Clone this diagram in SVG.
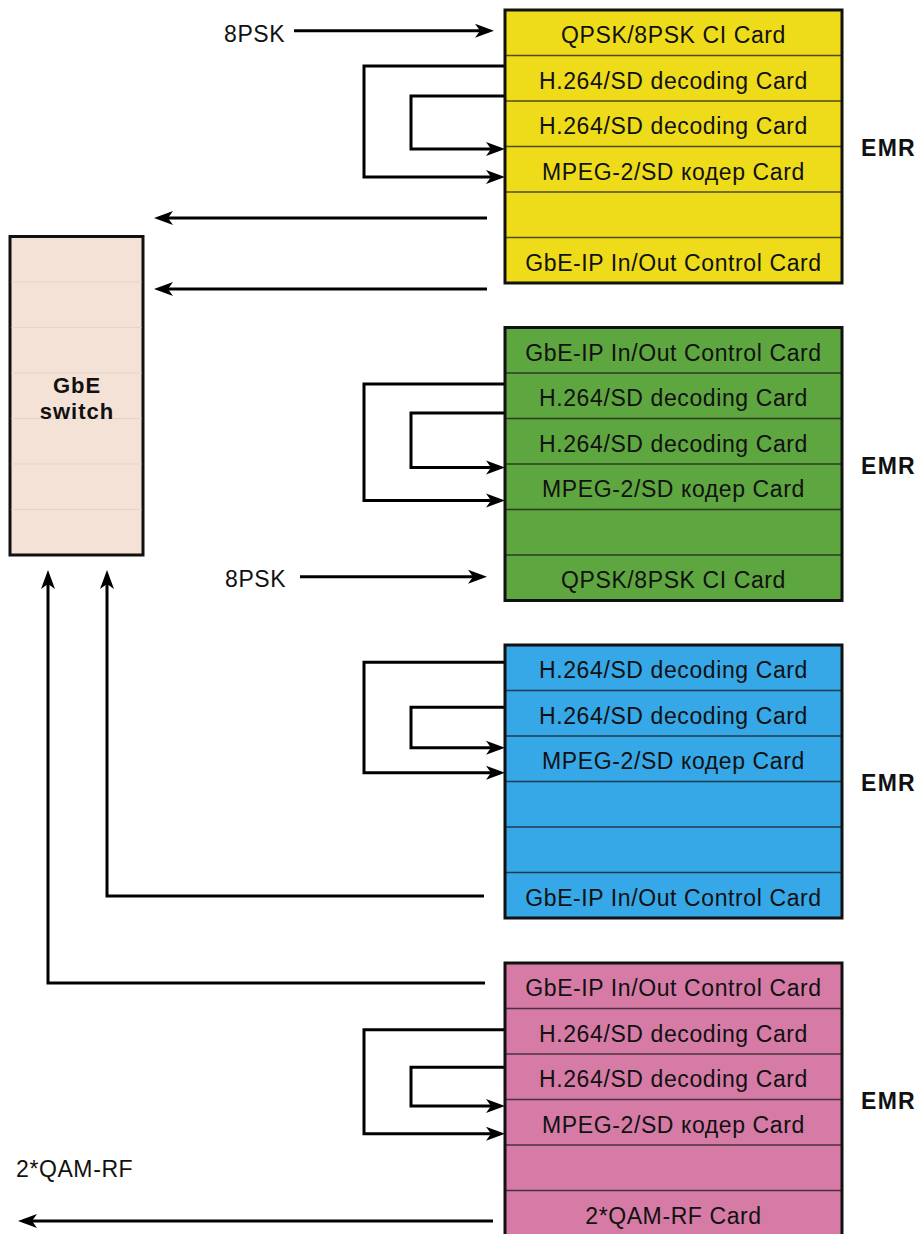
<svg xmlns="http://www.w3.org/2000/svg" width="916" height="1234" viewBox="0 0 916 1234">
<style>
.box{stroke:#111;stroke-width:3}
.div{stroke:#1a1a1a;stroke-width:1.3;stroke-opacity:0.75}
.sdiv{stroke:#e3d3c9;stroke-width:1}
.t{font-family:"Liberation Sans",Arial,sans-serif;font-size:23px;fill:#111;text-anchor:middle;letter-spacing:0.6px}
.lbl{font-family:"Liberation Sans",Arial,sans-serif;font-size:23px;fill:#111;letter-spacing:0.6px}
.emr{font-family:"Liberation Sans",Arial,sans-serif;font-size:23px;font-weight:bold;fill:#111;letter-spacing:1.3px}
.sw{font-family:"Liberation Sans",Arial,sans-serif;font-size:22px;font-weight:bold;fill:#111;text-anchor:middle;letter-spacing:1px}
.c{fill:none;stroke:#000;stroke-width:3;marker-end:url(#ah)}
</style>
<defs>
<marker id="ah" markerUnits="userSpaceOnUse" markerWidth="22" markerHeight="16" refX="14" refY="7" orient="auto" overflow="visible">
<path d="M0,0 L19,7 L0,14 L5,7 z" fill="#000"/>
</marker>
</defs>
<rect width="916" height="1234" fill="#fff"/>

<g id="connectors">
<path class="c" d="M294,30.7 H489"/>
<path class="c" d="M505,66 H364 V177 H500"/>
<path class="c" d="M505,96 H411 V149 H500"/>
<path class="c" d="M487,218 H159"/>
<path class="c" d="M487,289 H159"/>
<path class="c" d="M505,384 H364 V500.5 H500"/>
<path class="c" d="M505,413 H411 V467.5 H500"/>
<path class="c" d="M300,576.7 H482"/>
<path class="c" d="M505,662.3 H364 V772.7 H500"/>
<path class="c" d="M505,707.3 H411 V747.7 H500"/>
<path class="c" d="M484,896 H107 V575"/>
<path class="c" d="M485,983 H48 V575"/>
<path class="c" d="M505,1029.7 H364 V1133.7 H500"/>
<path class="c" d="M505,1067.3 H411 V1106 H500"/>
<path class="c" d="M493,1221 H23"/>
</g>

<g id="label-8psk-1"><text class="lbl" x="224" y="42">8PSK</text></g>
<g id="label-8psk-2"><text class="lbl" x="225" y="587">8PSK</text></g>
<g id="label-qam"><text class="lbl" x="16" y="1177">2*QAM-RF</text></g>

<g id="switch">
<rect x="10" y="236.5" width="133" height="318.5" fill="#F5E2D7" class="box"/>
<line class="sdiv" x1="11.5" y1="282" x2="141.5" y2="282"/>
<line class="sdiv" x1="11.5" y1="327.5" x2="141.5" y2="327.5"/>
<line class="sdiv" x1="11.5" y1="373" x2="141.5" y2="373"/>
<line class="sdiv" x1="11.5" y1="418.5" x2="141.5" y2="418.5"/>
<line class="sdiv" x1="11.5" y1="464" x2="141.5" y2="464"/>
<line class="sdiv" x1="11.5" y1="509.5" x2="141.5" y2="509.5"/>
<text class="sw" x="77" y="392.5">GbE</text>
<text class="sw" x="77" y="419">switch</text>
</g>

<g id="emr-yellow">
<rect x="505" y="10" width="337" height="273" fill="#EEDC1B" class="box"/>
<line class="div" x1="506" y1="55.5" x2="841" y2="55.5"/>
<line class="div" x1="506" y1="101" x2="841" y2="101"/>
<line class="div" x1="506" y1="146.5" x2="841" y2="146.5"/>
<line class="div" x1="506" y1="192" x2="841" y2="192"/>
<line class="div" x1="506" y1="237.5" x2="841" y2="237.5"/>
<text class="t" x="673.5" y="43">QPSK/8PSK CI Card</text>
<text class="t" x="673.5" y="88.5">H.264/SD decoding Card</text>
<text class="t" x="673.5" y="134">H.264/SD decoding Card</text>
<text class="t" x="673.5" y="179.5">MPEG-2/SD кодер Card</text>
<text class="t" x="673.5" y="270.5">GbE-IP In/Out Control Card</text>
<text class="emr" x="861" y="156">EMR</text>
</g>

<g id="emr-green">
<rect x="505" y="327.5" width="337" height="273" fill="#5EA63F" class="box"/>
<line class="div" x1="506" y1="373" x2="841" y2="373"/>
<line class="div" x1="506" y1="418.5" x2="841" y2="418.5"/>
<line class="div" x1="506" y1="464" x2="841" y2="464"/>
<line class="div" x1="506" y1="509.5" x2="841" y2="509.5"/>
<line class="div" x1="506" y1="555" x2="841" y2="555"/>
<text class="t" x="673.5" y="360.5">GbE-IP In/Out Control Card</text>
<text class="t" x="673.5" y="406">H.264/SD decoding Card</text>
<text class="t" x="673.5" y="451.5">H.264/SD decoding Card</text>
<text class="t" x="673.5" y="497">MPEG-2/SD кодер Card</text>
<text class="t" x="673.5" y="588">QPSK/8PSK CI Card</text>
<text class="emr" x="861" y="473.5">EMR</text>
</g>

<g id="emr-blue">
<rect x="505" y="645" width="337" height="273" fill="#36A7E7" class="box"/>
<line class="div" x1="506" y1="690.5" x2="841" y2="690.5"/>
<line class="div" x1="506" y1="736" x2="841" y2="736"/>
<line class="div" x1="506" y1="781.5" x2="841" y2="781.5"/>
<line class="div" x1="506" y1="827" x2="841" y2="827"/>
<line class="div" x1="506" y1="872.5" x2="841" y2="872.5"/>
<text class="t" x="673.5" y="678">H.264/SD decoding Card</text>
<text class="t" x="673.5" y="723.5">H.264/SD decoding Card</text>
<text class="t" x="673.5" y="769">MPEG-2/SD кодер Card</text>
<text class="t" x="673.5" y="905.5">GbE-IP In/Out Control Card</text>
<text class="emr" x="861" y="791">EMR</text>
</g>

<g id="emr-pink">
<rect x="505" y="963" width="337" height="273" fill="#D67BA6" class="box"/>
<line class="div" x1="506" y1="1008.5" x2="841" y2="1008.5"/>
<line class="div" x1="506" y1="1054" x2="841" y2="1054"/>
<line class="div" x1="506" y1="1099.5" x2="841" y2="1099.5"/>
<line class="div" x1="506" y1="1145" x2="841" y2="1145"/>
<line class="div" x1="506" y1="1190.5" x2="841" y2="1190.5"/>
<text class="t" x="673.5" y="996">GbE-IP In/Out Control Card</text>
<text class="t" x="673.5" y="1041.5">H.264/SD decoding Card</text>
<text class="t" x="673.5" y="1087">H.264/SD decoding Card</text>
<text class="t" x="673.5" y="1132.5">MPEG-2/SD кодер Card</text>
<text class="t" x="673.5" y="1223.5">2*QAM-RF Card</text>
<text class="emr" x="861" y="1108.5">EMR</text>
</g>
</svg>
